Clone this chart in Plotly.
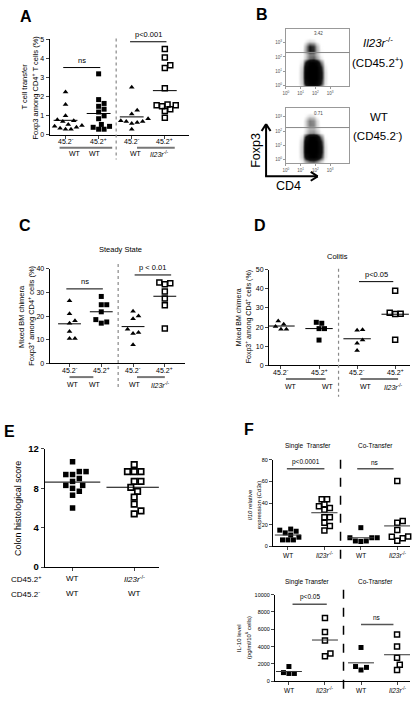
import plotly.graph_objects as go

W, H = 413, 702
FONT = "Liberation Sans, Arial, sans-serif"

# ---------------- DATA ----------------
# Panel A: T cell transfer, Foxp3 among CD4+ T cells (%)
a_ticks = ["45.2<sup>-</sup>", "45.2<sup>+</sup>", "45.2<sup>-</sup>", "45.2<sup>+</sup>"]
a_genotype = ["WT", "WT", "WT", "<i>Il23r</i><sup>-/-</sup>"]
a_wt_minus = [2.25, 1.6, 1.0, 0.8, 0.75, 0.7, 0.55, 0.5, 0.45, 0.4, 0.35, 0.3, 0.3]
a_wt_plus = [3.2, 1.85, 1.65, 1.5, 1.35, 1.2, 1.0, 0.85, 0.55, 0.45, 0.4, 0.3, 0.3]
a_co_minus = [2.5, 1.3, 1.1, 0.85, 0.75, 0.7, 0.7, 0.65, 0.6, 0.3]
a_ko_plus = [4.5, 4.05, 3.65, 3.5, 2.45, 1.6, 1.55, 1.55, 1.5, 1.35, 1.25, 0.9]
a_sig_text = ["ns", "p<0.001"]
a_sig_y = [3.53, 4.88]
a_yticks = [0, 1, 2, 3, 4, 5]

# Panel B: flow cytometry density (log10 units: CD4 on x, Foxp3 on y)
flow_x = [0.8, 1.1, 1.35, 1.6, 1.85, 2.1, 2.35, 2.6, 2.9]
flow_y = [-0.1, 0.2, 0.55, 0.9, 1.25, 1.6, 1.9, 2.15, 2.45, 2.75, 3.05, 3.35]
flow_top_z = [
    [0, 0.04, 0.2, 0.35, 0.4, 0.3, 0.12, 0.02, 0],
    [0, 0.1, 0.65, 0.95, 1.0, 0.9, 0.5, 0.06, 0],
    [0, 0.12, 0.9, 1.0, 1.0, 1.0, 0.65, 0.07, 0],
    [0, 0.12, 0.9, 1.0, 1.0, 1.0, 0.65, 0.07, 0],
    [0, 0.1, 0.8, 1.0, 1.0, 1.0, 0.55, 0.05, 0],
    [0, 0.05, 0.5, 0.95, 1.0, 0.85, 0.3, 0.02, 0],
    [0, 0.02, 0.1, 0.3, 0.35, 0.2, 0.05, 0, 0],
    [0, 0.01, 0.08, 0.25, 0.25, 0.12, 0.02, 0, 0],
    [0, 0.02, 0.18, 0.5, 0.45, 0.16, 0.02, 0, 0],
    [0, 0.01, 0.15, 0.5, 0.42, 0.14, 0.01, 0, 0],
    [0, 0, 0.03, 0.08, 0.06, 0.02, 0, 0, 0],
    [0, 0, 0, 0, 0, 0, 0, 0, 0],
]
flow_bottom_z = [
    [0, 0.04, 0.2, 0.35, 0.4, 0.3, 0.12, 0.02, 0],
    [0, 0.1, 0.65, 0.95, 1.0, 0.9, 0.5, 0.06, 0],
    [0, 0.12, 0.9, 1.0, 1.0, 1.0, 0.65, 0.07, 0],
    [0, 0.12, 0.9, 1.0, 1.0, 1.0, 0.65, 0.07, 0],
    [0, 0.1, 0.8, 1.0, 1.0, 1.0, 0.55, 0.05, 0],
    [0, 0.05, 0.5, 0.95, 1.0, 0.85, 0.3, 0.02, 0],
    [0, 0.01, 0.07, 0.2, 0.22, 0.13, 0.03, 0, 0],
    [0, 0, 0.05, 0.14, 0.14, 0.07, 0.01, 0, 0],
    [0, 0, 0.08, 0.26, 0.24, 0.08, 0, 0, 0],
    [0, 0, 0.08, 0.26, 0.22, 0.07, 0, 0, 0],
    [0, 0, 0.02, 0.06, 0.05, 0.01, 0, 0, 0],
    [0, 0, 0, 0, 0, 0, 0, 0, 0],
]
flow_ticks = ["10<sup>0</sup>", "10<sup>1</sup>", "10<sup>2</sup>", "10<sup>3</sup>"]
flow_pct = ["3.42", "0.71"]
flow_gate = [2.31, 2.25]

# Panel C: Steady State mixed BM chimera
c_wt_minus = [26.5, 21, 18, 17, 13.5, 10.5, 10.5]
c_wt_plus = [28.3, 24.8, 24.8, 21.8, 18.5, 17.5, 17]
c_co_minus = [22, 20, 18.9, 14.4, 13, 12.6, 7.9]
c_ko_plus = [34.2, 33.5, 33.9, 30.4, 27.4, 24.6, 14.7]
c_sig_text = ["ns", "p < 0.01"]
c_sig_y = [31.5, 37.4]
c_yticks = [0, 10, 20, 30, 40]

# Panel D: Colitis mixed BM chimera
d_wt_minus = [23.2, 21.5, 20.3, 18.9, 18.9]
d_wt_plus = [22, 22.5, 19.2, 19.2, 13.2]
d_co_minus = [18.4, 18.6, 13.2, 11.5, 7.7]
d_ko_plus = [39, 27, 26.8, 27.5, 13.4]
d_sig_text = ["p<0.05"]
d_sig_y = [43.8]
d_yticks = [0, 10, 20, 30, 40, 50]

# Panel E: Colon histological score
e_wt = [10.7, 9.7, 9.7, 9.4, 9.4, 9.0, 8.7, 8.3, 8.3, 8.0, 7.7, 7.3, 6.0]
e_ko = [10.4, 9.7, 9.7, 9.7, 8.7, 8.7, 8.1, 7.7, 7.1, 6.4, 5.7, 5.4]
e_yticks = [0, 4, 8, 12]
e_row1 = ["WT", "<i>Il23r</i><sup>-/-</sup>"]
e_row2 = ["WT", "WT"]

# Panel F top: Il10 relative expression
f_ticks = ["WT", "<i>Il23r</i><sup>-/-</sup>", "WT", "<i>Il23r</i><sup>-/-</sup>"]
f1_wt_single = [16, 14, 15, 10.5, 12.5, 6, 6, 6, 8.5]
f1_ko_single = [43.6, 43.6, 39, 37, 35.4, 33.9, 27, 27, 21.8, 18.8, 14.8]
f1_wt_co = [17.3, 8, 8, 8, 5, 5, 4.5]
f1_ko_co = [60.3, 23.4, 21.8, 15.2, 9.1, 8.8, 7.5, 5.2]
f1_sig_text = ["p<0.0001", "ns"]
f1_sig_y = [71.8, 71.8]
f1_yticks = [0, 20, 40, 60, 80]

# Panel F bottom: IL-10 level
f2_wt_single = [1700, 1000, 900, 900]
f2_ko_single = [7300, 5700, 4700, 2900, 3200]
f2_wt_co = [3900, 1700, 1300, 1600]
f2_ko_co = [5400, 4000, 2700, 1900, 1300]
f2_sig_text = ["p<0.05", "ns"]
f2_sig_y = [8900, 6560]
f2_yticks = [0, 2000, 4000, 6000, 8000, 10000]

# ---------------- HELPERS ----------------
def px(x):
    return x / W

def py(y):
    return 1 - y / H

layout = dict(width=W, height=H, margin=dict(l=0, r=0, t=0, b=0),
              paper_bgcolor="white", plot_bgcolor="white", showlegend=False,
              font=dict(family=FONT, color="black"))
shapes, annotations, traces = [], [], []
axn = [0]


def new_axes(x0, x1, y0, y1, xr, yr, xkw=None, ykw=None):
    axn[0] += 1
    n = axn[0]
    s = "" if n == 1 else str(n)
    xa = dict(domain=[px(x0), px(x1)], range=xr, anchor="y" + s, showgrid=False,
              zeroline=False, showline=True, linecolor="black", linewidth=1,
              fixedrange=True)
    ya = dict(domain=[py(y1), py(y0)], range=yr, anchor="x" + s, showgrid=False,
              zeroline=False, showline=True, linecolor="black", linewidth=1,
              fixedrange=True)
    if xkw:
        xa.update(xkw)
    if ykw:
        ya.update(ykw)
    layout["xaxis" + s] = xa
    layout["yaxis" + s] = ya
    sx = (x1 - x0) / (xr[1] - xr[0])
    sy = (y1 - y0) / (yr[1] - yr[0])
    return "x" + s, "y" + s, sx, sy


def swarm(vals, pos, sx, sy, diam):
    order = sorted(range(len(vals)), key=lambda i: vals[i])
    placed = []
    xs = [pos] * len(vals)
    cands = [0.0]
    for j in range(1, 40):
        cands += [j * diam * 0.5, -j * diam * 0.5]
    for i in order:
        yp = vals[i] * sy
        off = 0.0
        for c in cands:
            if all((c - ox) ** 2 + (yp - oy) ** 2 >= diam ** 2 * 0.98 for ox, oy in placed):
                off = c
                break
        placed.append((off, yp))
        xs[i] = pos + off / sx
    return xs


def text(x, y, t, size=7.5, color="black", **kw):
    d = dict(x=px(x), y=py(y), xref="paper", yref="paper", text=t, showarrow=False,
             font=dict(size=size, family=FONT, color=color), xanchor="center",
             yanchor="middle")
    d.update(kw)
    annotations.append(d)


def pline(x0, y0, x1, y1, color="black", width=1, dash=None):
    ln = dict(color=color, width=width)
    if dash:
        ln["dash"] = dash
    shapes.append(dict(type="line", xref="paper", yref="paper", x0=px(x0), y0=py(y0),
                       x1=px(x1), y1=py(y1), line=ln))


def dot_panel(box, xr, yr, groups, yticks, ytext, xticks, tfs, yfs, diam, xlab_y=None,
              half=0.36, mean_color="black", mean_w=1):
    x0, x1, y0, y1 = box
    cats = list(range(1, len(xticks) + 1))
    xa, ya, sx, sy = new_axes(
        x0, x1, y0, y1, xr, yr,
        xkw=dict(tickmode="array", tickvals=cats, ticktext=xticks, showticklabels=False,
                 ticks="outside", ticklen=3, tickwidth=1),
        ykw=dict(tickmode="array", tickvals=yticks, ticktext=ytext, ticks="outside",
                 ticklen=3, tickwidth=1, tickfont=dict(size=yfs)))
    if xlab_y is not None:
        for c, t in zip(cats, xticks):
            annotations.append(dict(x=c, y=py(xlab_y), xref=xa, yref="paper", text=t,
                                    showarrow=False, xanchor="center", yanchor="middle",
                                    font=dict(size=tfs, family=FONT, color="black")))
    for k, (vals, sym, size, lw) in enumerate(groups):
        pos = k + 1
        xs = swarm(vals, pos, sx, sy, diam)
        traces.append(go.Scatter(x=xs, y=vals, mode="markers", xaxis=xa, yaxis=ya,
                                 marker=dict(symbol=sym, size=size, color="black",
                                             line=dict(width=lw, color="black")),
                                 hoverinfo="skip", cliponaxis=False))
        m = sum(vals) / len(vals)
        shapes.append(dict(type="line", xref=xa, yref=ya, x0=pos - half, x1=pos + half,
                           y0=m, y1=m, line=dict(color=mean_color, width=mean_w)))
    return xa, ya


def sig(xa, ya, xpos0, xpos1, yv, label, size=7.5, color="black", width=1):
    shapes.append(dict(type="line", xref=xa, yref=ya, x0=xpos0, x1=xpos1, y0=yv, y1=yv,
                       line=dict(color=color, width=width)))
    annotations.append(dict(x=(xpos0 + xpos1) / 2, y=yv, xref=xa, yref=ya, text=label,
                            showarrow=False, yanchor="bottom", yshift=1,
                            font=dict(size=size, family=FONT, color="black")))


TRI = ("triangle-up", 5, 0)
SQF = ("square", 5, 0)
SQO = ("square-open", 5, 1.5)

# ---------------- PANEL A ----------------
text(23, 11, "<b>A</b>", size=16)
xa, ya = dot_panel((47, 187, 34, 131), [0.52, 4.72], [0, 5],
                   [(a_wt_minus,) + TRI, (a_wt_plus,) + SQF, (a_co_minus,) + TRI, (a_ko_plus,) + SQO],
                   a_yticks, [str(v) for v in a_yticks], a_ticks, 7, 7, 5.5, xlab_y=137.5)
sig(xa, ya, 0.93, 2.05, a_sig_y[0], a_sig_text[0])
sig(xa, ya, 2.95, 4.05, a_sig_y[1], a_sig_text[1])
pline(114, 33, 114, 156, color="#888", width=1.2, dash="dot")
pline(57, 144, 110, 144, color="#777", width=2)
pline(135, 144, 173, 144, color="#777", width=2)
for xx, g in zip([73, 93, 134, 158], a_genotype):
    text(xx, 150, g, size=7)
text(22, 82, "T cell transfer", size=7.5, textangle=-90)
text(32, 83, "Foxp3 among CD4<sup>+</sup> T cells (%)", size=7.5, textangle=-90)

# ---------------- PANEL B ----------------
text(261, 9, "<b>B</b>", size=16)
for (ytop, ybot, yr, z, pct, gate) in [(23, 81.5, [-0.03, 3.97], flow_top_z, flow_pct[0], flow_gate[0]),
                                       (104, 160, [-0.28, 3.6], flow_bottom_z, flow_pct[1], flow_gate[1])]:
    fxa, fya, _, _ = new_axes(
        285, 349, ytop, ybot, [0, 4.32], yr,
        xkw=dict(mirror=True, linecolor="#999", tickmode="array", tickvals=[0, 1, 2, 3],
                 ticktext=flow_ticks, ticks="outside", ticklen=2, tickcolor="#999",
                 tickfont=dict(size=4.5, color="#555")),
        ykw=dict(mirror=True, linecolor="#999", tickmode="array", tickvals=[0, 1, 2, 3],
                 ticktext=flow_ticks, ticks="outside", ticklen=2, tickcolor="#999",
                 tickfont=dict(size=4.5, color="#555")))
    traces.append(go.Heatmap(x=flow_x, y=flow_y, z=z, xaxis=fxa, yaxis=fya, zsmooth="best",
                             showscale=False, zmin=0, zmax=1, hoverinfo="skip",
                             colorscale=[[0, "rgba(255,255,255,0)"], [0.03, "#f0f0f0"],
                                         [0.12, "#bdbdbd"], [0.3, "#6a6a6a"],
                                         [0.5, "#151515"], [1, "black"]]))
    shapes.append(dict(type="line", xref=fxa + " domain", yref=fya, x0=0, x1=1, y0=gate, y1=gate,
                       line=dict(color="#888", width=1)))
    text(318, ytop + 5, pct, size=4.5, color="#444")
text(378, 37, "<i>Il23r</i><sup>-/-</sup>", size=11.5)
text(378, 57, "(CD45.2<sup>+</sup>)", size=11.5)
text(379, 113, "WT", size=11.5)
text(378, 131, "(CD45.2<sup>-</sup>)", size=11.5)
# axes arrows
pline(265, 173, 265, 120, width=2)
pline(265, 120, 260.5, 127, width=2)
pline(265, 120, 269.5, 127, width=2)
pline(264, 173, 317, 173, width=2)
pline(317, 173, 310, 168.5, width=2)
pline(317, 173, 310, 177.5, width=2)
text(255, 147, "Foxp3", size=12.5, textangle=-90)
text(288, 183, "CD4", size=12.5)

# ---------------- PANEL C ----------------
text(22, 223, "<b>C</b>", size=16)
text(118, 247, "Steady State", size=7.5)
xa, ya = dot_panel((47, 183, 267, 363), [0.375, 4.625], [0, 40],
                   [(c_wt_minus,) + TRI, (c_wt_plus,) + SQF, (c_co_minus,) + TRI, (c_ko_plus,) + SQO],
                   c_yticks, [str(v) for v in c_yticks], a_ticks, 7, 7, 5.5, xlab_y=370)
sig(xa, ya, 0.9, 2.05, c_sig_y[0], c_sig_text[0])
sig(xa, ya, 3.05, 4.2, c_sig_y[1], c_sig_text[1])
pline(116, 262, 116, 389, color="#888", width=1.2, dash="dot")
pline(67, 377, 91, 377, color="#777", width=2)
pline(135, 377, 163, 377, color="#777", width=2)
for xx, g in zip([71, 93, 133, 159], a_genotype):
    text(xx, 385, g, size=7)
text(18, 315, "Mixed BM chimera", size=7.5, textangle=-90)
text(28, 315, "Foxp3<sup>+</sup> among CD4<sup>+</sup> cells (%)", size=7.5, textangle=-90)

# ---------------- PANEL D ----------------
text(259, 223, "<b>D</b>", size=16)
text(337, 254, "Colitis", size=7.5)
xa, ya = dot_panel((268, 410, 268, 365), [0.687, 4.39], [0, 50],
                   [(d_wt_minus,) + TRI, (d_wt_plus,) + SQF, (d_co_minus,) + TRI, (d_ko_plus,) + SQO],
                   d_yticks, [str(v) for v in d_yticks], a_ticks, 7, 7, 5.5, xlab_y=372)
sig(xa, ya, 3.05, 3.95, d_sig_y[0], d_sig_text[0])
pline(338, 267, 338, 397, color="#888", width=1.2, dash="dot")
pline(285, 379, 325, 379, color="#777", width=2)
pline(360, 379, 398, 379, color="#777", width=2)
for xx, g in zip([290, 327, 366, 393], a_genotype):
    text(xx, 387, g, size=7)
text(237, 316, "Mixed BM chimera", size=7, textangle=-90)
text(247, 316, "Foxp3<sup>+</sup> among CD4<sup>+</sup> cells (%)", size=7, textangle=-90)

# ---------------- PANEL E ----------------
text(7, 432, "<b>E</b>", size=16)
xa, ya = dot_panel((42, 157, 450, 570), [0.548, 2.40], [0, 12],
                   [(e_wt, "square", 5.5, 0), (e_ko, "square-open", 5.5, 1.7)],
                   e_yticks, ["<b>%d</b>" % v for v in e_yticks], ["", ""], 8, 9.5, 6.8, half=0.45)
text(23, 582, "CD45.2<sup>+</sup>", size=8)
text(23, 597, "CD45.2<sup>-</sup>", size=8)
for xx, g1, g2 in zip([70, 132], e_row1, e_row2):
    text(xx, 582, g1, size=8)
    text(xx, 597, g2, size=8)
text(15, 510, "Colon histological score", size=9, textangle=-90)

# ---------------- PANEL F ----------------
text(248, 430, "<b>F</b>", size=16)
text(307, 447, "Single  Transfer", size=6.5)
text(375, 447, "Co-Transfer", size=6.5)
xa, ya = dot_panel((272, 410, 461, 549), [0.59, 4.35], [0, 80],
                   [(f1_wt_single,) + SQF, (f1_ko_single,) + SQO, (f1_wt_co,) + SQF, (f1_ko_co,) + SQO],
                   f1_yticks, [str(v) for v in f1_yticks], f_ticks, 6.5, 5.5, 5.5, xlab_y=558,
                   mean_color="#333")
sig(xa, ya, 0.97, 2.0, f1_sig_y[0], f1_sig_text[0], size=6.5, color="#555", width=1.5)
sig(xa, ya, 2.9, 3.9, f1_sig_y[1], f1_sig_text[1], size=6.5, color="#555", width=1.5)
pline(340, 461, 340, 563, color="black", width=1.5, dash="dash")
text(249, 507, "<i>Il10</i> relative", size=6, textangle=-90)
text(258, 507, "expression (<i>Cd3ε</i>)", size=6, textangle=-90)

text(307, 585, "Single Transfer", size=6.5)
text(375, 585, "Co-Transfer", size=6.5)
xa, ya = dot_panel((274, 410, 598, 686), [0.614, 4.36], [0, 10000],
                   [(f2_wt_single,) + SQF, (f2_ko_single,) + SQO, (f2_wt_co,) + SQF, (f2_ko_co,) + SQO],
                   f2_yticks, [str(v) for v in f2_yticks], f_ticks, 6.5, 5.5, 5.5, xlab_y=695,
                   mean_color="#333")
sig(xa, ya, 1.1, 2.05, f2_sig_y[0], f2_sig_text[0], size=6.5, color="#555", width=1.5)
sig(xa, ya, 3.0, 3.9, f2_sig_y[1], f2_sig_text[1], size=6.5, color="#555", width=1.5)
pline(343, 593, 343, 702, color="black", width=1.5, dash="dash")
text(238, 642, "IL-10 level", size=6, textangle=-90)
text(247, 642, "(pg/ml/10<sup>6</sup> cells)", size=6, textangle=-90)

layout["shapes"] = shapes
layout["annotations"] = annotations
fig = go.Figure(data=traces, layout=layout)
fig.write_html("out.html", config={"displayModeBar": False},
               post_script="document.body.style.margin='0';document.body.style.padding='0';"
                           "document.documentElement.style.overflow='hidden';")
